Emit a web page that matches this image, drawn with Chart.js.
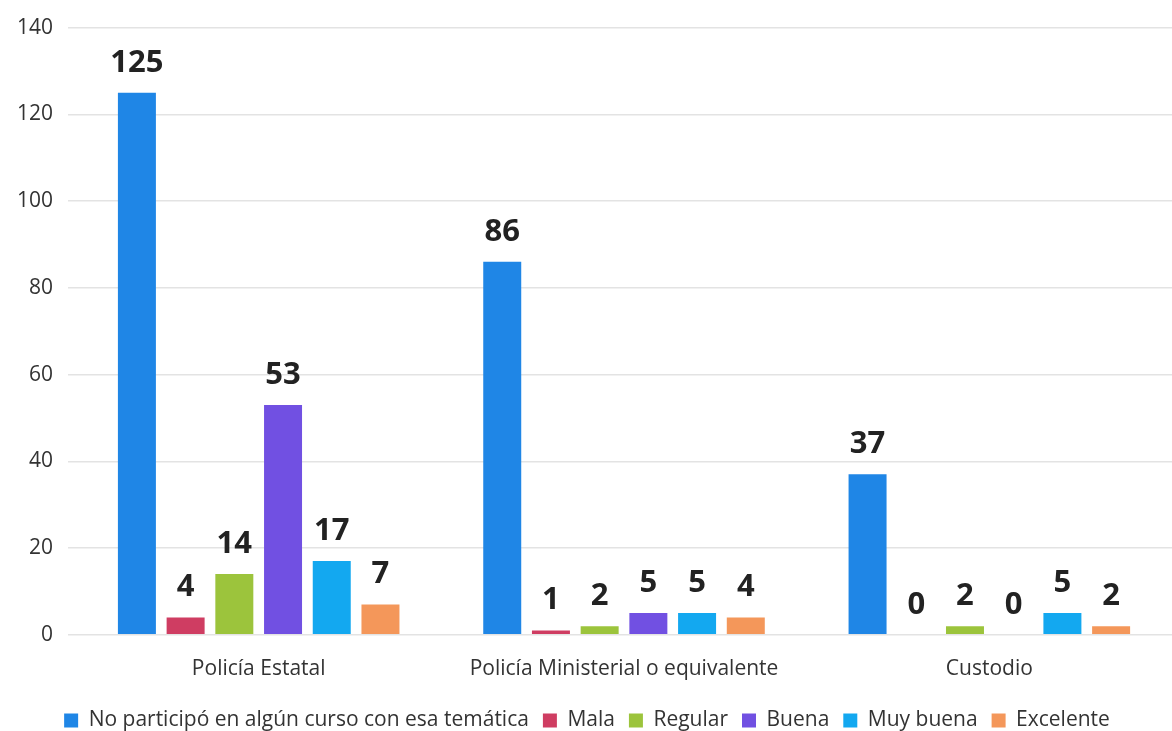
<!DOCTYPE html>
<html>
<head>
<meta charset="utf-8">
<script src="https://cdn.jsdelivr.net/npm/chart.js@4"></script>
<style>
  html, body { margin: 0; padding: 0; background: #fff; }
  #wrap { width: 1172px; height: 731px; }
</style>
</head>
<body>
<div id="wrap"><canvas id="myChart"></canvas></div>
<script>
const categories = ['Policía Estatal', 'Policía Ministerial o equivalente', 'Custodio'];
const noParticipo = [125, 86, 37];
const mala = [4, 1, 0];
const regular = [14, 2, 2];
const buena = [53, 5, 0];
const muyBuena = [17, 5, 5];
const excelente = [7, 4, 2];

// draw the value above each bar
const valueLabels = {
  id: 'valueLabels',
  afterDatasetsDraw(chart) {
    const c = chart.ctx;
    c.save();
    c.font = 'bold 31px "Open Sans", sans-serif';
    c.fillStyle = '#222';
    c.textAlign = 'center';
    c.textBaseline = 'alphabetic';
    chart.data.datasets.forEach((ds, i) => {
      chart.getDatasetMeta(i).data.forEach((bar, j) => {
        c.fillText(ds.data[j], bar.x, bar.y - 21);
      });
    });
    c.restore();
  }
};

const ctx = document.getElementById('myChart');
const font = { family: '"Open Sans", sans-serif', size: 21 };

new Chart(ctx, {
  type: 'bar',
  data: {
    labels: categories,
    datasets: [
      { label: 'No participó en algún curso con esa temática', data: noParticipo, backgroundColor: '#1f86e6' },
      { label: 'Mala', data: mala, backgroundColor: '#cf3d62' },
      { label: 'Regular', data: regular, backgroundColor: '#9cc43c' },
      { label: 'Buena', data: buena, backgroundColor: '#7150e2' },
      { label: 'Muy buena', data: muyBuena, backgroundColor: '#13a8f0' },
      { label: 'Excelente', data: excelente, backgroundColor: '#f4975a' }
    ]
  },
  options: {
    responsive: true,
    maintainAspectRatio: false,
    animation: false,
    categoryPercentage: 0.8,
    barPercentage: 0.78,
    layout: { padding: { top: 16, right: 0, left: 2, bottom: -10 } },
    plugins: {
      tooltip: { enabled: false },
      legend: {
        position: 'bottom',
        labels: {
          boxWidth: 14,
          boxHeight: 14,
          padding: 14,
          color: '#333',
          font: font
        }
      }
    },
    scales: {
      x: {
        grid: { display: false },
        border: { display: false },
        ticks: { color: '#333', font: font, padding: 14 }
      },
      y: {
        min: 0,
        max: 140,
        ticks: { stepSize: 20, color: '#333', padding: 15, font: font },
        grid: { color: '#e3e3e3', lineWidth: 1.5 },
        border: { display: false }
      }
    }
  },
  plugins: [valueLabels]
});
</script>
</body>
</html>
